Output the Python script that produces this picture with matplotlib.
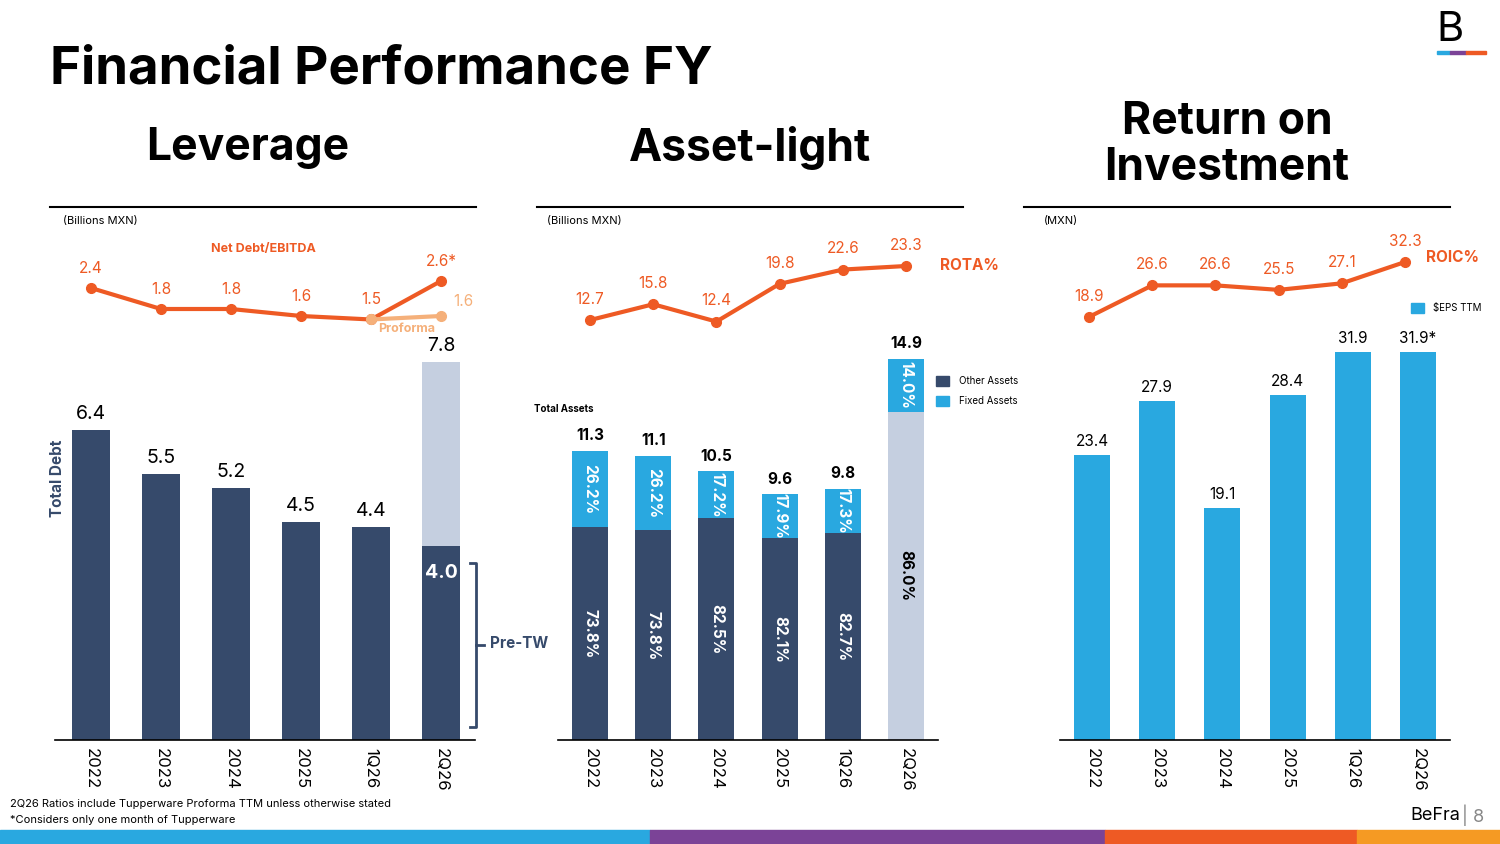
import matplotlib.pyplot as plt
from matplotlib.patches import Rectangle

NAVY = '#364A6B'
BLUE = '#29A8E0'
ORANGE = '#EE5A24'
LORANGE = '#F5B07A'
GREY = '#C5CFE0'
plt.rcParams['font.family'] = ['Inter', 'DejaVu Sans']

periods = ['2022', '2023', '2024', '2025', '1Q26', '2Q26']
total_debt = [6.4, 5.5, 5.2, 4.5, 4.4, 7.8]
pre_tw = 4.0
net_debt_ebitda = [2.4, 1.8, 1.8, 1.6, 1.5, 2.6]
proforma = [1.5, 1.6]
total_assets = [11.3, 11.1, 10.5, 9.6, 9.8, 14.9]
other_pct = [73.8, 73.8, 82.5, 82.1, 82.7, 86.0]
fixed_pct = [26.2, 26.2, 17.2, 17.9, 17.3, 14.0]
rota = [12.7, 15.8, 12.4, 19.8, 22.6, 23.3]
eps_ttm = [23.4, 27.9, 19.1, 28.4, 31.9, 31.9]
roic = [18.9, 26.6, 26.6, 25.5, 27.1, 32.3]

W, H = 1500, 844
fig = plt.figure(figsize=(15, 8.44), dpi=100)

def ax_px(x0, y0, x1, y1):
    a = fig.add_axes([x0 / W, 1 - y1 / H, (x1 - x0) / W, (y1 - y0) / H])
    a.patch.set_alpha(0)
    return a

def ftext(x, y, s, **kw):
    fig.text(x / W, 1 - y / H, s, **kw)

def hline(x0, x1, y, c='black', lw=1.5):
    fig.add_artist(plt.Line2D([x0 / W, x1 / W], [1 - y / H, 1 - y / H], color=c, lw=lw))

def clean(a):
    for s in ['top', 'right', 'left']:
        a.spines[s].set_visible(False)
    a.set_yticks([])

def bar_axes(x0, x1, centers_first, step, ymax_px, ppu):
    a = ax_px(x0, 740 - ymax_px, x1, 740)
    a.set_ylim(0, ymax_px / ppu)
    a.set_xlim(x0, x1)
    clean(a)
    a.spines['bottom'].set_linewidth(1.2)
    xs = [centers_first + i * step for i in range(6)]
    a.set_xticks(xs)
    a.set_xticklabels(periods, rotation=270, fontsize=12)
    a.tick_params(axis='x', length=0, pad=6)
    return a, xs

def line_axes(x0, x1, y0, y1):
    a = ax_px(x0, y0, x1, y1)
    a.set_xlim(x0, x1)
    a.axis('off')
    return a

# title and headers
ftext(50, 70, 'Financial Performance FY', fontsize=38, fontweight='bold', va='center')
ftext(248, 148, 'Leverage', fontsize=32, fontweight='bold', ha='center', va='center')
ftext(750, 148, 'Asset-light', fontsize=32, fontweight='bold', ha='center', va='center')
ftext(1227, 145, 'Return on\nInvestment', fontsize=32, fontweight='bold', ha='center', va='center', linespacing=1.15)
hline(50, 476, 207)
hline(537, 963, 207)
hline(1024, 1450, 207)

# ---- Leverage ----
a1, xs1 = bar_axes(55, 475, 91, 70, 410, 48.4)
a1.bar(xs1[:5], total_debt[:5], width=38, color=NAVY)
a1.bar(xs1[5], total_debt[5], width=38, color=GREY)
a1.bar(xs1[5], pre_tw, width=38, color=NAVY)
for x, v in zip(xs1, total_debt):
    a1.text(x, v + 0.15, f'{v}', ha='center', va='bottom', fontsize=14)
a1.text(xs1[5], pre_tw - 0.55, f'{pre_tw}', ha='center', va='center', fontsize=14, color='white', fontweight='bold')
ftext(58, 478, 'Total Debt', rotation=90, fontsize=11, fontweight='bold', color=NAVY, ha='center', va='center')
fig.add_artist(plt.Line2D([470 / W, 476 / W, 476 / W, 470 / W],
                          [1 - 563 / H, 1 - 563 / H, 1 - 727 / H, 1 - 727 / H], color=NAVY, lw=2))
hline(476, 484, 645, c=NAVY, lw=2)
ftext(490, 644, 'Pre-TW', fontsize=11, fontweight='bold', color=NAVY, va='center')
ftext(63, 221, '(Billions MXN)', fontsize=8, va='center')
ftext(263, 249, 'Net Debt/EBITDA', fontsize=9, fontweight='bold', color=ORANGE, ha='center', va='center')

l1 = line_axes(55, 475, 250, 340)
l1.set_ylim(0.914, 3.486)
l1.plot(xs1, net_debt_ebitda, color=ORANGE, lw=3, marker='o', ms=7)
l1.plot(xs1[4:], proforma, color=LORANGE, lw=3, marker='o', ms=7)
for i, (x, v) in enumerate(zip(xs1, net_debt_ebitda)):
    s = f'{v}*' if i == 5 else f'{v}'
    l1.text(x, v + 0.35, s, ha='center', va='bottom', fontsize=11, color=ORANGE)
l1.text(xs1[5] + 22, proforma[1] + 0.4, f'{proforma[1]}', ha='center', va='center', fontsize=11, color=LORANGE)
l1.text(407, 1.22, 'Proforma', ha='center', va='center', fontsize=9, fontweight='bold', color=LORANGE)

# ---- Asset-light ----
a2, xs2 = bar_axes(558, 938, 590, 63.2, 410, 25.6)
for i, (x, t, o, f) in enumerate(zip(xs2, total_assets, other_pct, fixed_pct)):
    ov = t * o / 100
    c_o = GREY if i == 5 else NAVY
    a2.bar(x, ov, width=36, color=c_o)
    a2.bar(x, t - ov, bottom=ov, width=36, color=BLUE)
    a2.text(x, t + 0.3, f'{t}', ha='center', va='bottom', fontsize=11, fontweight='bold')
    a2.text(x, ov / 2, f'{o:.1f}%', ha='center', va='center', rotation=270, fontsize=11,
            fontweight='bold', color='black' if i == 5 else 'white')
    a2.text(x, ov + (t - ov) / 2, f'{f:.1f}%', ha='center', va='center', rotation=270, fontsize=11,
            fontweight='bold', color='white')
ftext(547, 221, '(Billions MXN)', fontsize=8, va='center')
ftext(534, 409, 'Total Assets', fontsize=7, fontweight='bold', va='center')
fig.add_artist(Rectangle((936 / W, 1 - 386 / H), 13 / W, 10 / H, color=NAVY))
fig.add_artist(Rectangle((936 / W, 1 - 406 / H), 13 / W, 10 / H, color=BLUE))
ftext(959, 381, 'Other Assets', fontsize=7, va='center')
ftext(959, 401, 'Fixed Assets', fontsize=7, va='center')

l2 = line_axes(558, 938, 230, 340)
l2.set_ylim(23.3 - (340 - 266) / 5.1, 23.3 + (266 - 230) / 5.1)
l2.plot(xs2, rota, color=ORANGE, lw=3, marker='o', ms=7)
for x, v in zip(xs2, rota):
    l2.text(x, v + 2.6, f'{v}', ha='center', va='bottom', fontsize=11, color=ORANGE)
ftext(940, 265, 'ROTA%', fontsize=11, fontweight='bold', color=ORANGE, va='center')

# ---- Return on Investment ----
a3, xs3 = bar_axes(1060, 1450, 1092, 65.2, 410, 12.16)
a3.bar(xs3, eps_ttm, width=36, color=BLUE)
for i, (x, v) in enumerate(zip(xs3, eps_ttm)):
    s = f'{v}*' if i == 5 else f'{v}'
    a3.text(x, v + 0.5, s, ha='center', va='bottom', fontsize=11)
ftext(1044, 221, '(MXN)', fontsize=8, va='center')
fig.add_artist(Rectangle((1411 / W, 1 - 313 / H), 13 / W, 10 / H, color=BLUE))
ftext(1433, 308, '$EPS TTM', fontsize=7, va='center')

l3 = line_axes(1060, 1450, 230, 340)
l3.set_ylim(32.3 - (340 - 262) / 4.1, 32.3 + (262 - 230) / 4.1)
xs3l = [1089 + i * 63.2 for i in range(6)]
l3.plot(xs3l, roic, color=ORANGE, lw=3, marker='o', ms=7)
for x, v in zip(xs3l, roic):
    l3.text(x, v + 3.2, f'{v}', ha='center', va='bottom', fontsize=11, color=ORANGE)
ftext(1426, 257, 'ROIC%', fontsize=11, fontweight='bold', color=ORANGE, va='center')

# footer
ftext(10, 804, '2Q26 Ratios include Tupperware Proforma TTM unless otherwise stated', fontsize=8, va='center')
ftext(10, 820, '*Considers only one month of Tupperware', fontsize=8, va='center')
ftext(1460, 815, 'BeFra', fontsize=13, ha='right', va='center')
ftext(1462, 815, '| 8', fontsize=13, ha='left', va='center', color='#888888')
for x0, x1, c in [(0, 650, BLUE), (650, 1105, '#7B4397'), (1105, 1357, ORANGE), (1357, 1500, '#F59A23')]:
    fig.add_artist(Rectangle((x0 / W, 0), (x1 - x0) / W, 14 / H, color=c))
# logo
ftext(1450, 30, 'B', fontsize=30, ha='center', va='center')
for x0, x1, c in [(1437, 1450, BLUE), (1450, 1466, '#7B4397'), (1466, 1486, ORANGE)]:
    fig.add_artist(Rectangle((x0 / W, 1 - 54 / H), (x1 - x0) / W, 3 / H, color=c))

fig.savefig('out.png', dpi=100)
